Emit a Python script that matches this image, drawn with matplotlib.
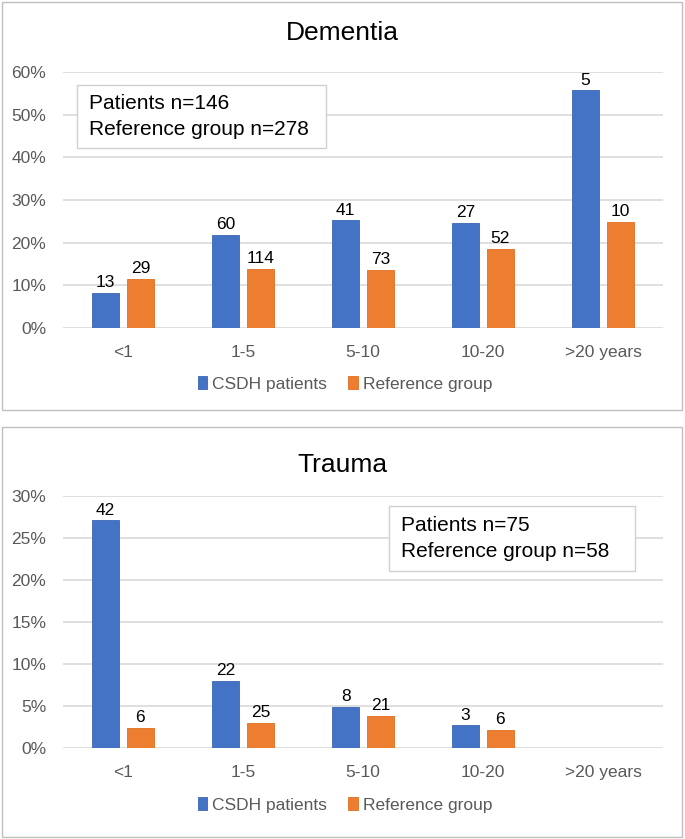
import matplotlib
matplotlib.use("Agg")
import matplotlib.pyplot as plt
from matplotlib.patches import Rectangle
import numpy as np

plt.rcParams['font.family'] = ['Liberation Sans', 'DejaVu Sans']

categories = ["<1", "1-5", "5-10", "10-20", ">20 years"]
series_names = ["CSDH patients", "Reference group"]

dementia_patients = [8.3, 21.9, 25.2, 24.6, 55.7]
dementia_reference = [11.6, 13.9, 13.7, 18.6, 24.9]
dementia_patients_n = ["13", "60", "41", "27", "5"]
dementia_reference_n = ["29", "114", "73", "52", "10"]

trauma_patients = [27.1, 8.0, 4.86, 2.68, None]
trauma_reference = [2.37, 3.03, 3.85, 2.18, None]
trauma_patients_n = ["42", "22", "8", "3", None]
trauma_reference_n = ["6", "25", "21", "6", None]

BLUE = "#4472C4"
ORANGE = "#ED7D31"
GRID = "#D9D9D9"
TXT = "#595959"

W, H = 685, 839
fig = plt.figure(figsize=(W / 100, H / 100), dpi=100)


def px(x0, y0, x1, y1):
    return [x0 / W, 1 - y1 / H, (x1 - x0) / W, (y1 - y0) / H]


def panel(rect_px, ax_px, title, title_y, pvals, rvals, pn, rn, ymax, ystep,
          box_px, box_lines, legend_y):
    # panel border
    x0, y0, x1, y1 = rect_px
    fig.patches.append(Rectangle((x0 / W, 1 - y1 / H), (x1 - x0) / W, (y1 - y0) / H,
                                 transform=fig.transFigure, fill=False,
                                 edgecolor="#BFBFBF", linewidth=1.0))
    ax = fig.add_axes(px(*ax_px))
    x = np.arange(len(categories))
    w = 0.22
    off = 0.145
    pv = [v if v is not None else 0 for v in pvals]
    rv = [v if v is not None else 0 for v in rvals]
    b1 = ax.bar(x - off, pv, w, color=BLUE, edgecolor="#3A66B5", linewidth=0.6,
                label=series_names[0], zorder=3)
    b2 = ax.bar(x + off, rv, w, color=ORANGE, edgecolor="#E06F20", linewidth=0.6,
                label=series_names[1], zorder=3)
    for i in range(len(categories)):
        if pvals[i] is not None:
            ax.annotate(pn[i], (x[i] - off, pvals[i]), xytext=(0, 2),
                        textcoords="offset points", ha="center", va="bottom",
                        fontsize=12.5, color="black")
        if rvals[i] is not None:
            ax.annotate(rn[i], (x[i] + off, rvals[i]), xytext=(0, 2),
                        textcoords="offset points", ha="center", va="bottom",
                        fontsize=12.5, color="black")
    ax.set_xlim(-0.5, len(categories) - 0.5)
    ax.set_ylim(0, ymax)
    ticks = np.arange(0, ymax + 0.001, ystep)
    ax.set_yticks(ticks)
    ax.set_yticklabels([f"{int(round(t))}%" for t in ticks])
    ax.set_xticks(x)
    ax.set_xticklabels(categories)
    for s in ax.spines.values():
        s.set_visible(False)
    ax.tick_params(axis="both", length=0, labelsize=12.5, colors=TXT)
    ax.tick_params(axis="y", pad=12)
    ax.tick_params(axis="x", pad=12)
    ax.yaxis.grid(True, color=GRID, linewidth=1.2, zorder=0)
    ax.set_axisbelow(True)
    fig.text(342 / W, 1 - title_y / H, title, ha="center", va="center",
             fontsize=19, color="black")
    # annotation box
    bx0, by0, bx1, by1 = box_px
    fig.patches.append(Rectangle((bx0 / W, 1 - by1 / H), (bx1 - bx0) / W, (by1 - by0) / H,
                                 transform=fig.transFigure, facecolor="white",
                                 edgecolor="#D0D0D0", linewidth=1.0, zorder=5))
    fig.text((bx0 + 12) / W, 1 - (by0 + (by1 - by0) * 0.5) / H, box_lines,
             ha="left", va="center", fontsize=15, color="black",
             linespacing=1.45, zorder=6)
    fig.legend(handles=[b1, b2], loc="center", bbox_to_anchor=(345 / W, 1 - legend_y / H),
               ncol=2, frameon=False, fontsize=12.5, handlelength=0.55,
               handleheight=0.8, handletextpad=0.3, columnspacing=1.2,
               labelcolor=TXT)
    return ax


panel((2, 2, 682, 410), (63, 72, 663, 328), "Dementia", 33,
      dementia_patients, dementia_reference, dementia_patients_n, dementia_reference_n,
      60, 10, (77, 85, 326, 148), "Patients n=146\nReference group n=278", 384)

panel((2, 427, 682, 837), (63, 496, 663, 748), "Trauma", 465,
      trauma_patients, trauma_reference, trauma_patients_n, trauma_reference_n,
      30, 5, (389, 506, 635, 571), "Patients n=75\nReference group n=58", 805)

fig.savefig("out.png", dpi=100)
